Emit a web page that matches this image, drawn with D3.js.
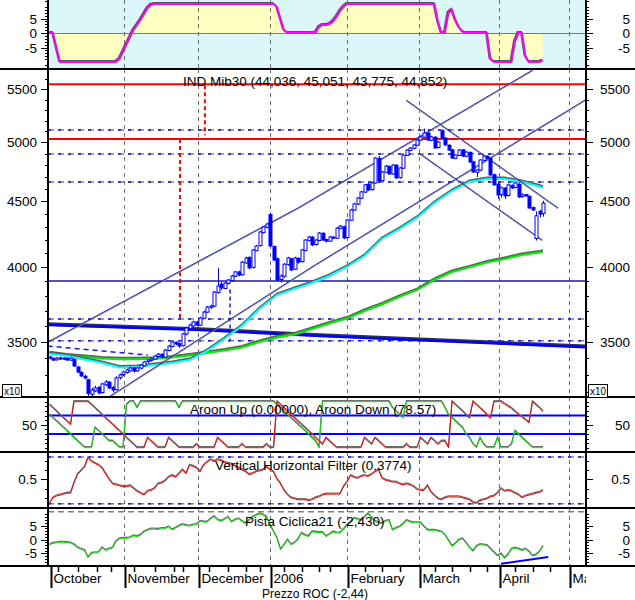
<!DOCTYPE html>
<html><head><meta charset="utf-8">
<script src="https://cdn.jsdelivr.net/npm/d3@7"></script>
<style>body{margin:0;background:#fff}svg{display:block}text{font-family:"Liberation Sans",Arial,sans-serif;fill:#000}</style>
</head><body><svg id="c" width="635" height="600"></svg>
<script>
// ---------- DATA ----------
const opens=[3405,3395,3388,3400,3392,3398,3386,3390,3345,3312,3290,3270,3185,3205,3225,3195,3240,3255,3225,3212,3282,3300,3312,3322,3340,3322,3338,3352,3378,3385,3392,3408,3422,3404,3445,3470,3496,3488,3475,3548,3585,3600,3626,3605,3650,3690,3722,3730,3822,3880,3850,3885,3905,3935,3965,3945,4030,4070,3998,4120,4158,4255,4295,4395,4150,4060,3912,3935,4018,4060,3985,4062,4040,4120,4195,4220,4165,4195,4250,4202,4190,4220,4212,4288,4300,4218,4350,4430,4478,4525,4575,4640,4595,4650,4860,4670,4740,4790,4725,4800,4695,4775,4885,4930,4948,4975,5020,5048,5085,5020,5048,4955,5105,5040,4975,4935,4860,4885,4935,4878,4912,4830,4740,4758,4842,4878,4860,4720,4640,4555,4608,4548,4630,4612,4640,4538,4555,4540,4450,4210,4420,4403.6];
const highs=[3412,3402,3405,3406,3404,3403,3404,3396,3350,3320,3300,3275,3222,3235,3232,3252,3268,3262,3233,3290,3305,3322,3335,3346,3345,3345,3362,3382,3392,3400,3418,3430,3428,3455,3480,3505,3502,3495,3556,3595,3615,3635,3632,3660,3700,3732,3740,3832,3995,3895,3895,3915,3945,3972,3975,4045,4075,4078,4132,4162,4268,4305,4330,4410,4158,4070,3948,4030,4075,4068,4075,4070,4132,4205,4230,4228,4205,4260,4256,4208,4230,4228,4298,4312,4308,4360,4440,4488,4535,4585,4642,4650,4660,4870,4880,4752,4802,4798,4810,4808,4785,4895,4940,4960,4985,5030,5060,5125,5092,5060,5055,5012,5112,5048,4985,4942,4895,4940,4942,4922,4920,4838,4768,4852,4890,4885,4866,4728,4650,4620,4615,4645,4638,4660,4648,4565,4560,4548,4458,4420,4432,4505.1];
const lows=[3390,3380,3384,3388,3386,3382,3383,3345,3308,3285,3272,3168,3175,3198,3185,3190,3232,3215,3195,3208,3270,3290,3305,3318,3312,3316,3330,3348,3370,3378,3388,3402,3398,3400,3440,3465,3478,3462,3470,3540,3578,3595,3598,3600,3645,3685,3712,3725,3815,3840,3845,3878,3898,3928,3935,3940,4025,3985,3990,4115,4150,4248,4288,4150,4045,3900,3890,3925,4010,3972,3978,4025,4032,4115,4188,4155,4158,4190,4192,4180,4185,4205,4208,4280,4205,4212,4345,4425,4470,4518,4568,4585,4588,4645,4660,4662,4735,4720,4718,4685,4688,4770,4880,4922,4940,4968,5012,5040,5015,5010,4945,4948,5035,4972,4925,4855,4852,4880,4872,4870,4820,4735,4700,4750,4835,4855,4710,4628,4520,4530,4520,4540,4600,4605,4528,4530,4538,4440,4425,4195,4372,4377.5];
const closes=[3399,3387,3399,3393,3399,3387,3399,3351,3315,3292,3280,3190,3210,3222,3193,3245,3257,3222,3210,3280,3298,3315,3327,3339,3321,3339,3357,3375,3387,3393,3411,3423,3405,3448,3473,3498,3486,3473,3549,3587,3606,3626,3606,3652,3691,3724,3731,3825,3867,3853,3888,3909,3937,3966,3944,4036,4066,3994,4125,4154,4260,4298,4321,4154,4051,3909,3937,4021,4066,3980,4066,4036,4125,4199,4222,4162,4199,4252,4199,4191,4222,4214,4290,4305,4214,4352,4431,4479,4527,4577,4635,4593,4651,4863,4668,4743,4794,4726,4803,4693,4777,4889,4933,4951,4978,5023,5050,5086,5023,5050,4951,5005,5041,4978,4933,4863,4889,4933,4880,4915,4829,4743,4760,4846,4880,4863,4718,4635,4552,4610,4544,4635,4610,4651,4535,4552,4544,4447,4431,4385,4398,4485.2];

// moving averages, sampled every 5 sessions
const maIdx=[0,5,10,15,20,25,30,35,40,45,50,55,60,65,70,75,80,85,90,95,100,105,110,115,120,125,130,135,140,141];
const maShort=[3424,3412,3390,3369,3342,3345,3357,3369,3387,3442,3517,3600,3711,3805,3846,3888,3937,4001,4080,4207,4282,4368,4487,4584,4659,4684,4684,4659,4621,4609];
const maLong=[3428,3415,3405,3396,3391,3391,3395,3402,3415,3430,3445,3464,3498,3526,3545,3580,3616,3648,3698,3741,3792,3839,3909,3965,3998,4033,4059,4088,4106,4111];

// long trend line (thick blue)
const trendIdx=[-0.5,43,77.3,104.4,153.5];
const trendVal=[3606,3574,3536,3511,3465];
// channel lines [idx, price]
const chanUpper=[[-0.5,3498],[71,4447],[138.1,5694]];
const chanLower=[[15.8,3156],[75.9,4016],[153.5,5405]];
const downUpper=[[101.9,5396],[145.3,4447]];
const downLower=[[105.6,4907],[140.8,4199]];
const shortDash=[[-0.5,3473],[28.1,3417]];
// horizontal levels
const redLevels=[5549,5032];
const dashLevels=[5113,4898,4659,3645,3506];
const solidLevel=3902;
// vertical markers [idx, from, to]
const redVert=[[37.3,5032,3645],[44.4,5540,5065]];
const blueVert=[[51.6,3842,3508]];

// top oscillator
const topOsc=[0,0,-5,-10,-10,-10,-10,-10,-10,-10,-10,-10,-10,-10,-10,-10,-10,-10,-10,-10,-9,-6.5,-4,-1.5,1,2.7,4.5,6.5,8.5,9.7,10,10,10,10,10,10,10,10,10,10,10,10,10,10,10,10,10,10,10,10,10,10,10,10,10,10,10,10,10,10,10,10,10,10,10,9,5,1,0,0,0,0,0,0,0,0,0,2,2.8,2.8,3,4,5.5,7.5,9,10,10,10,10,10,10,10,10,10,10,10,10,10,10,10,10,10,10,10,10,10,10,10,10,10,10,4,0,0,7,8,4.5,2,0.5,0,0,0,0,0,0,0,-9,-10,-10,-10,-10,-10,-10,-3,0,0,-8,-10,-10,-10,-10,-9.4];

// Aroon
const aroonUp=[71,64,57,50,43,36,29,21,14,7,0,0,0,43,36,29,21,14,14,7,0,0,93,100,100,86,100,100,100,100,100,100,100,100,100,100,100,86,100,100,100,100,100,100,100,100,100,100,100,100,100,100,100,100,100,100,100,100,100,100,100,100,100,100,100,93,86,79,71,64,57,50,43,36,29,21,14,0,100,100,100,100,100,100,100,100,100,100,100,100,100,100,100,100,100,100,100,100,86,79,71,64,100,100,100,100,100,100,100,100,100,100,100,86,71,64,57,50,43,29,21,7,0,21,7,0,0,0,21,0,0,0,7,36,29,21,14,7,0,0,0,0];
const aroonDown=[93,86,79,71,64,57,50,100,100,100,100,100,93,86,79,71,64,57,50,43,36,29,21,14,7,0,0,0,21,14,7,0,0,0,21,14,7,0,0,0,0,0,7,0,0,0,0,0,21,14,7,0,0,0,0,7,0,0,0,0,0,0,7,0,0,100,93,86,79,71,64,57,50,43,36,29,21,14,7,21,14,7,0,0,0,0,0,0,0,0,21,14,7,21,14,7,0,0,0,0,0,0,7,0,0,0,21,14,7,21,14,7,14,14,0,100,93,86,79,71,64,100,93,86,79,71,64,100,100,100,95,90,85,78,72,66,60,54,100,93,86,78.57];
const aroonLevels=[70,30];

// Vertical Horizontal Filter
const vhf=[0.24,0.30,0.32,0.33,0.34,0.35,0.35,0.46,0.55,0.59,0.63,0.73,0.69,0.67,0.65,0.62,0.56,0.50,0.45,0.44,0.43,0.42,0.42,0.43,0.40,0.37,0.35,0.33,0.37,0.38,0.40,0.45,0.46,0.48,0.52,0.54,0.52,0.56,0.60,0.56,0.65,0.64,0.62,0.58,0.65,0.68,0.71,0.69,0.71,0.70,0.68,0.67,0.66,0.64,0.62,0.60,0.58,0.55,0.56,0.58,0.59,0.60,0.63,0.60,0.58,0.50,0.45,0.38,0.33,0.30,0.29,0.28,0.28,0.28,0.27,0.28,0.30,0.31,0.33,0.34,0.34,0.34,0.34,0.34,0.42,0.47,0.54,0.52,0.51,0.53,0.54,0.53,0.55,0.58,0.60,0.51,0.49,0.48,0.47,0.47,0.45,0.44,0.45,0.44,0.42,0.39,0.38,0.38,0.43,0.36,0.32,0.29,0.28,0.30,0.31,0.31,0.31,0.31,0.30,0.29,0.28,0.25,0.24,0.27,0.28,0.29,0.31,0.32,0.35,0.40,0.37,0.38,0.37,0.35,0.33,0.30,0.32,0.33,0.34,0.35,0.36,0.3774];
const vhfLevels=[0.74,0.238];

// Pista Ciclica 21
const pista=[-1.9,-1.4,-1.2,-1.0,-1.0,-1.1,-1.3,-1.9,-3.0,-3.5,-4.0,-6.6,-5.0,-4.8,-4.8,-3.0,-4.0,-3.5,-3.1,-0.8,0.2,0.4,0.4,0.6,1.3,1.0,1.5,2.7,3.3,3.7,3.7,3.6,3.9,3.9,4.5,3.4,4.0,4.8,5.3,5.0,4.8,5.2,5.3,6.5,6.3,6.2,7.3,8.2,7.0,6.5,7.2,8.0,6.2,7.0,7.4,6.5,5.7,6.8,8.0,8.6,9.2,8.8,8.0,5.1,2.8,0.4,-3.7,-2.0,-0.2,-1.9,-1.3,0.0,2.2,1.5,1.0,2.7,2.6,2.5,2.5,1.0,1.8,2.7,2.4,2.3,3.5,5.1,6.2,7.6,7.2,6.8,8.0,9.2,7.8,6.5,6.0,5.7,6.5,6.8,3.3,4.0,4.5,5.5,6.8,6.3,6.0,6.0,6.0,4.5,3.3,3.3,3.3,3.0,2.7,1.5,-0.5,-2.5,-1.5,-0.2,0.2,-1.3,-3.0,-4.3,-2.5,-1.9,-2.0,-2.2,-3.5,-4.8,-6.0,-5.2,-6.8,-5.5,-3.5,-3.1,-3.5,-4.0,-3.5,-4.5,-6.0,-5.6,-4.5,-2.43];
const pistaLevel=10;
const pistaTrend=[[129,-8.7],[142.5,-6.3]];

// axis labels
const monthIdx=[0.1,21.2,42.3,63,85.1,105.5,128.5,148.3];
const monthNames=["October","November","December","2006","February","March","April","May"];
const weekIdx=[2.5,8,13.5,17.5,24,30,35.5,38,45.5,51,56,60,67,72,77,80,90,95,100,110,115,120,125,133,138,143];
const priceTicks=[3500,4000,4500,5000,5500];
const titles={main:"IND Mib30 (44,036, 45,051, 43,775, 44,852)",aroon:"Aroon Up (0.00000), Aroon Down (78.57)",vhf:"Vertical Horizontal Filter (0.3774)",pista:"Pista Ciclica21 (-2,430)",roc:"Prezzo ROC (-2,44)"};

// ---------- LAYOUT ----------
const X0=48,X1=586;
const P={top:[0,69],main:[69,397],aroon:[397,452],vhf:[452,508],pista:[508,566]};
const svg=d3.select('#c');
const x=d3.scaleLinear().domain([0,141]).range([49.5,543]);
const yTop=d3.scaleLinear().domain([-12.4,11.4]).range([69,0]);
const yMain=d3.scaleLog().domain([3170,5693]).range([397,70]);
const yAr=d3.scaleLinear().domain([0,100]).range([447.7,401.7]);
const yVhf=d3.scaleLinear().domain([0.3,0.7]).range([497.9,460.7]);
const yPi=d3.scaleLinear().domain([0,10]).range([539.5,511.7]);

const defs=svg.append('defs');
function panel(name){
  const [a,b]=P[name];
  defs.append('clipPath').attr('id','cp-'+name).append('rect').attr('x',X0).attr('y',a).attr('width',X1-X0).attr('height',b-a);
  return svg.append('g').attr('clip-path',`url(#cp-${name})`);
}
function grid(g,name){
  const [a,b]=P[name];
  g.selectAll(null).data(monthIdx.slice(1)).enter().append('line')
   .attr('x1',d=>Math.round(x(d))+0.5).attr('x2',d=>Math.round(x(d))+0.5).attr('y1',a).attr('y2',b)
   .attr('stroke','#6e6e6e').attr('stroke-width',1).attr('stroke-dasharray','4,4');
}
function path(g,pts,color,w,opts={}){
  const p=g.append('path').attr('d',d3.line()(pts)).attr('fill','none').attr('stroke',color).attr('stroke-width',w);
  if(opts.dash)p.attr('stroke-dasharray',opts.dash);
  if(opts.dx||opts.dy)p.attr('transform',`translate(${opts.dx||0},${opts.dy||0})`);
  return p;
}
function hline(g,yv,color,w,dash){
  const l=g.append('line').attr('x1',X0).attr('x2',X1).attr('y1',yv).attr('y2',yv).attr('stroke',color).attr('stroke-width',w);
  if(dash)l.attr('stroke-dasharray',dash);
}
function shadowSeries(g,vals,ys,color,w){
  const pts=vals.map((v,i)=>[x(i),ys(v)]);
  path(g,pts,'#707070',1.3,{dy:-1});
  path(g,pts,color,w);
}

// ---------- TOP PANEL ----------
{
  const g=panel('top');
  g.append('rect').attr('x',X0).attr('y',0).attr('width',X1-X0).attr('height',69).attr('fill','#dbf7fa');
  const area=d3.area().x((d,i)=>x(i)).y0(yTop(0)).y1(d=>yTop(d));
  g.append('path').attr('d',area(topOsc)).attr('fill','#ffffc2');
  hline(g,Math.round(yTop(0))+0.5,'#7a7a7a',1);
  grid(g,'top');
  const pts=topOsc.map((v,i)=>[x(i),yTop(v)]);
  path(g,pts,'#5a5a5a',2,{dx:-1,dy:-1});
  path(g,pts,'#ff00ff',2);
}

// ---------- MAIN PANEL ----------
{
  const g=panel('main');
  grid(g,'main');
  redLevels.forEach(v=>hline(g,yMain(v),'#ff0000',2));
  dashLevels.forEach(v=>{hline(g,yMain(v),'#808080',1.5,'6,4');hline(g,yMain(v),'#1a1ad8',1.5,'3,7');});
  hline(g,yMain(solidLevel),'#1a1a9a',1.5);
  redVert.forEach(d=>g.append('line').attr('x1',x(d[0])).attr('x2',x(d[0])).attr('y1',yMain(d[1])).attr('y2',yMain(d[2])).attr('stroke','#ff0000').attr('stroke-width',2).attr('stroke-dasharray','4,3'));
  blueVert.forEach(d=>g.append('line').attr('x1',x(d[0])).attr('x2',x(d[0])).attr('y1',yMain(d[1])).attr('y2',yMain(d[2])).attr('stroke','#1a1ad8').attr('stroke-width',1.5).attr('stroke-dasharray','4,3'));
  path(g,shortDash.map(d=>[x(d[0]),yMain(d[1])]),'#1a1ad8',1.5,{dash:'5,4'});
  // long trend
  const tl=trendIdx.map((d,i)=>[x(d),yMain(trendVal[i])]);
  path(g,tl,'#303060',3.5,{dy:-1});
  path(g,tl,'#0000ff',2.5);
  // moving averages
  const mL=maIdx.map((d,i)=>[x(d),yMain(maLong[i])]);
  path(g,mL,'#606060',2,{dy:-1.5});
  path(g,mL,'#00ee00',2);
  const mS=maIdx.map((d,i)=>[x(d),yMain(maShort[i])]);
  path(g,mS,'#606060',2,{dy:-1.5});
  path(g,mS,'#00ffff',2);
  // channels
  [chanUpper,chanLower,downUpper,downLower].forEach(c=>{
    const pts=c.map(d=>[x(d[0]),yMain(d[1])]);
    path(g,pts,'#9a9a9a',1,{dy:1});
    path(g,pts,'#1c1ca0',1);
  });
  // candles
  const cg=g.append('g');
  closes.forEach((c,i)=>{
    const cx=Math.round(x(i))+0.5;
    const o=opens[i],h=highs[i],l=lows[i];
    cg.append('line').attr('x1',cx).attr('x2',cx).attr('y1',yMain(h)).attr('y2',yMain(l)).attr('stroke','#0000ff').attr('stroke-width',1);
    const top=yMain(Math.max(o,c)),bot=yMain(Math.min(o,c));
    const hh=Math.max(1,bot-top);
    if(c>=o){
      cg.append('rect').attr('x',cx-1.5).attr('y',top).attr('width',3).attr('height',hh).attr('fill','#fff').attr('stroke','#0000ff').attr('stroke-width',1);
    } else {
      cg.append('rect').attr('x',cx-2).attr('y',top-0.5).attr('width',4).attr('height',hh+1).attr('fill','#0000ff');
    }
  });
  svg.append('text').attr('x',183).attr('y',86).attr('font-size',13.5).text(titles.main);
}

// ---------- AROON ----------
{
  const g=panel('aroon');
  grid(g,'aroon');
  aroonLevels.forEach(v=>hline(g,yAr(v),'#0000ff',2));
  shadowSeries(g,aroonUp,yAr,'#00e000',1);
  shadowSeries(g,aroonDown,yAr,'#ff0000',1);
  svg.append('text').attr('x',190).attr('y',414).attr('font-size',13.5).text(titles.aroon);
}

// ---------- VHF ----------
{
  const g=panel('vhf');
  grid(g,'vhf');
  vhfLevels.forEach(v=>{hline(g,yVhf(v),'#808080',1.5,'6,4');hline(g,yVhf(v),'#1a1ad8',1.5,'3,7');});
  shadowSeries(g,vhf,yVhf,'#ff0000',1);
  svg.append('text').attr('x',215).attr('y',470).attr('font-size',13.5).text(titles.vhf);
}

// ---------- PISTA ----------
{
  const g=panel('pista');
  grid(g,'pista');
  hline(g,yPi(pistaLevel),'#808080',1.5,'6,4');
  shadowSeries(g,pista,yPi,'#00e000',1);
  path(g,pistaTrend.map(d=>[x(d[0]),yPi(d[1])]),'#0000ff',2);
  svg.append('text').attr('x',245).attr('y',526).attr('font-size',13.5).text(titles.pista);
}

// ---------- FRAME & AXES ----------
const fr=svg.append('g').attr('stroke','#000').attr('shape-rendering','crispEdges');
[69,397,452,508,566].forEach(yv=>fr.append('line').attr('x1',0).attr('x2',635).attr('y1',yv).attr('y2',yv).attr('stroke-width',2));
fr.append('line').attr('x1',X0).attr('x2',X0).attr('y1',0).attr('y2',566).attr('stroke-width',2);
fr.append('line').attr('x1',X1).attr('x2',X1).attr('y1',0).attr('y2',566).attr('stroke-width',2);

function ticks(vals,ys,len,labels){
  vals.forEach(v=>{
    const yy=Math.round(ys(v))+0.5;
    fr.append('line').attr('x1',X0-len).attr('x2',X0).attr('y1',yy).attr('y2',yy).attr('stroke-width',1.5);
    fr.append('line').attr('x1',X1).attr('x2',X1+len).attr('y1',yy).attr('y2',yy).attr('stroke-width',1.5);
    if(labels){
      svg.append('text').attr('x',37).attr('y',ys(v)+5).attr('text-anchor','end').attr('font-size',13.5).text(labels(v));
      svg.append('text').attr('x',630).attr('y',ys(v)+5).attr('text-anchor','end').attr('font-size',13.5).text(labels(v));
    }
  });
}
// top
ticks(d3.range(-12,12).filter(v=>v%5!==0),yTop,3);
ticks([-5,0,5],yTop,7,v=>v);
// main
ticks(d3.range(3200,5700,100).filter(v=>v%500!==0),yMain,3);
ticks(priceTicks,yMain,7,v=>v);
// aroon
ticks([0,10,20,30,40,60,70,80,90,100],yAr,3);
ticks([50],yAr,7,v=>v);
// vhf
ticks([0.2,0.3,0.4,0.6,0.7],yVhf,3);
ticks([0.5],yVhf,7,v=>v);
// pista
ticks(d3.range(-9,11).filter(v=>v%5!==0),yPi,3);
ticks([-5,0,5],yPi,7,v=>v);

// x10 boxes
[[2,'x10'],[588,'x10']].forEach(([bx,t])=>{
  svg.append('rect').attr('x',bx+0.5).attr('y',384.5).attr('width',19).attr('height',13).attr('fill','#fff').attr('stroke','#000');
  svg.append('text').attr('x',bx+10).attr('y',395).attr('text-anchor','middle').attr('font-size',10).attr('textLength',16).attr('lengthAdjust','spacingAndGlyphs').text(t);
});

// x axis
defs.append('clipPath').attr('id','cp-x').append('rect').attr('x',X0).attr('y',566).attr('width',X1-X0).attr('height',34);
const xg=svg.append('g').attr('clip-path','url(#cp-x)');
weekIdx.forEach(d=>xg.append('line').attr('x1',Math.round(x(d))+0.5).attr('x2',Math.round(x(d))+0.5).attr('y1',566).attr('y2',572).attr('stroke','#000').attr('stroke-width',1.5));
monthIdx.forEach((d,i)=>{
  const xx=Math.round(x(d))+1.5;
  xg.append('line').attr('x1',xx).attr('x2',xx).attr('y1',566).attr('y2',588).attr('stroke','#000').attr('stroke-width',2);
  xg.append('text').attr('x',xx+2).attr('y',583).attr('font-size',13.5).text(monthNames[i]);
});
// label of the (hidden) ROC study, kept just below the month names so it stays readable
svg.append('text').attr('x',262).attr('y',598).attr('font-size',12).text(titles.roc);
</script></body></html>
